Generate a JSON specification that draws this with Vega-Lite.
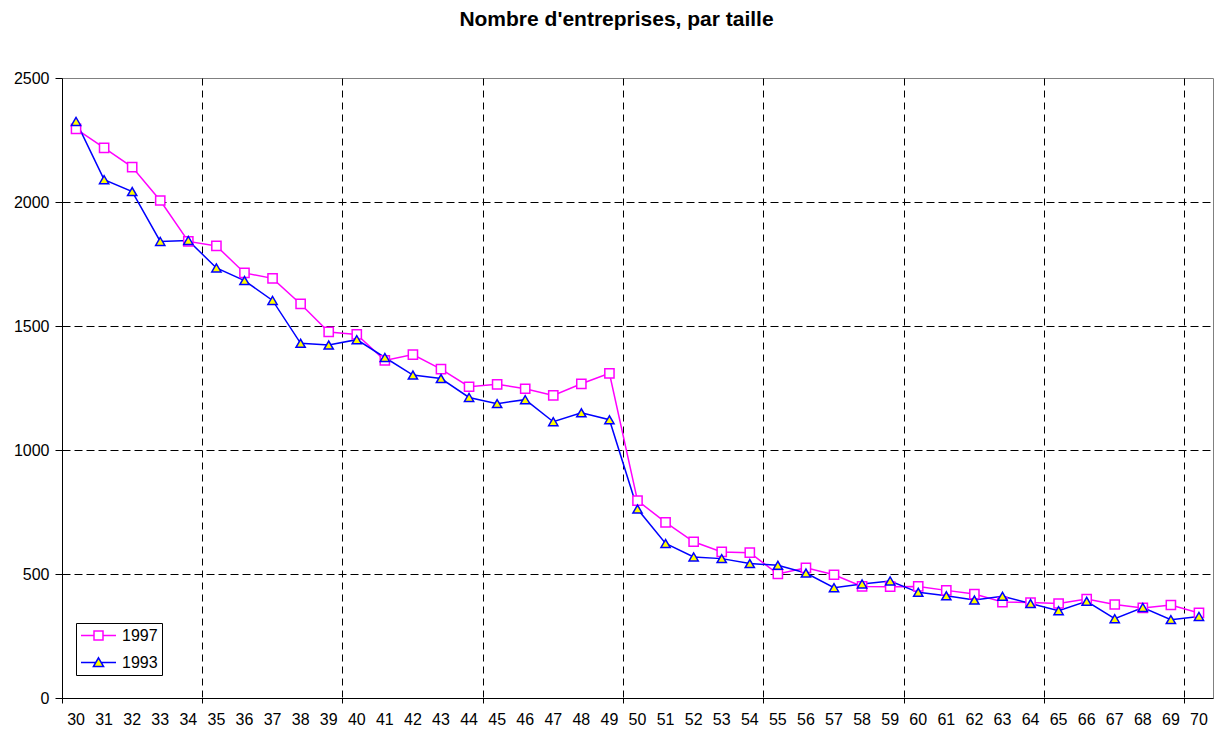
{
  "$schema": "https://vega.github.io/schema/vega-lite/v6.json",
  "autosize": {"type": "none"},
  "padding": {"left": 62, "top": 78, "right": 2, "bottom": 36},
  "width": 1151,
  "height": 620,
  "background": "white",
  "config": {
    "font": "Liberation Sans",
    "view": {"stroke": "#808080", "strokeWidth": 1}
  },
  "title": {
    "text": "Nombre d'entreprises, par taille",
    "fontSize": 21,
    "fontWeight": "bold",
    "font": "Liberation Sans",
    "color": "black",
    "anchor": "middle",
    "offset": 40,
    "dx": -21
  },
  "datasets": {
    "d": [
      {"taille": 30, "annee": "1997", "n": 2295},
      {"taille": 31, "annee": "1997", "n": 2218},
      {"taille": 32, "annee": "1997", "n": 2141},
      {"taille": 33, "annee": "1997", "n": 2006},
      {"taille": 34, "annee": "1997", "n": 1841},
      {"taille": 35, "annee": "1997", "n": 1823},
      {"taille": 36, "annee": "1997", "n": 1714},
      {"taille": 37, "annee": "1997", "n": 1692},
      {"taille": 38, "annee": "1997", "n": 1589},
      {"taille": 39, "annee": "1997", "n": 1476},
      {"taille": 40, "annee": "1997", "n": 1466},
      {"taille": 41, "annee": "1997", "n": 1361},
      {"taille": 42, "annee": "1997", "n": 1385},
      {"taille": 43, "annee": "1997", "n": 1326},
      {"taille": 44, "annee": "1997", "n": 1255},
      {"taille": 45, "annee": "1997", "n": 1265},
      {"taille": 46, "annee": "1997", "n": 1247},
      {"taille": 47, "annee": "1997", "n": 1220},
      {"taille": 48, "annee": "1997", "n": 1267},
      {"taille": 49, "annee": "1997", "n": 1309},
      {"taille": 50, "annee": "1997", "n": 796},
      {"taille": 51, "annee": "1997", "n": 708},
      {"taille": 52, "annee": "1997", "n": 630},
      {"taille": 53, "annee": "1997", "n": 589},
      {"taille": 54, "annee": "1997", "n": 586},
      {"taille": 55, "annee": "1997", "n": 500},
      {"taille": 56, "annee": "1997", "n": 525},
      {"taille": 57, "annee": "1997", "n": 497},
      {"taille": 58, "annee": "1997", "n": 450},
      {"taille": 59, "annee": "1997", "n": 449},
      {"taille": 60, "annee": "1997", "n": 450},
      {"taille": 61, "annee": "1997", "n": 434},
      {"taille": 62, "annee": "1997", "n": 419},
      {"taille": 63, "annee": "1997", "n": 387},
      {"taille": 64, "annee": "1997", "n": 385},
      {"taille": 65, "annee": "1997", "n": 381},
      {"taille": 66, "annee": "1997", "n": 399},
      {"taille": 67, "annee": "1997", "n": 377},
      {"taille": 68, "annee": "1997", "n": 363},
      {"taille": 69, "annee": "1997", "n": 375},
      {"taille": 70, "annee": "1997", "n": 343},
      {"taille": 30, "annee": "1993", "n": 2325},
      {"taille": 31, "annee": "1993", "n": 2090},
      {"taille": 32, "annee": "1993", "n": 2042},
      {"taille": 33, "annee": "1993", "n": 1841},
      {"taille": 34, "annee": "1993", "n": 1845},
      {"taille": 35, "annee": "1993", "n": 1734},
      {"taille": 36, "annee": "1993", "n": 1683},
      {"taille": 37, "annee": "1993", "n": 1603},
      {"taille": 38, "annee": "1993", "n": 1430},
      {"taille": 39, "annee": "1993", "n": 1423},
      {"taille": 40, "annee": "1993", "n": 1445},
      {"taille": 41, "annee": "1993", "n": 1373},
      {"taille": 42, "annee": "1993", "n": 1302},
      {"taille": 43, "annee": "1993", "n": 1288},
      {"taille": 44, "annee": "1993", "n": 1212},
      {"taille": 45, "annee": "1993", "n": 1187},
      {"taille": 46, "annee": "1993", "n": 1203},
      {"taille": 47, "annee": "1993", "n": 1114},
      {"taille": 48, "annee": "1993", "n": 1150},
      {"taille": 49, "annee": "1993", "n": 1122},
      {"taille": 50, "annee": "1993", "n": 762},
      {"taille": 51, "annee": "1993", "n": 623},
      {"taille": 52, "annee": "1993", "n": 569},
      {"taille": 53, "annee": "1993", "n": 562},
      {"taille": 54, "annee": "1993", "n": 542},
      {"taille": 55, "annee": "1993", "n": 535},
      {"taille": 56, "annee": "1993", "n": 504},
      {"taille": 57, "annee": "1993", "n": 445},
      {"taille": 58, "annee": "1993", "n": 460},
      {"taille": 59, "annee": "1993", "n": 472},
      {"taille": 60, "annee": "1993", "n": 426},
      {"taille": 61, "annee": "1993", "n": 412},
      {"taille": 62, "annee": "1993", "n": 395},
      {"taille": 63, "annee": "1993", "n": 410},
      {"taille": 64, "annee": "1993", "n": 381},
      {"taille": 65, "annee": "1993", "n": 352},
      {"taille": 66, "annee": "1993", "n": 390},
      {"taille": 67, "annee": "1993", "n": 320},
      {"taille": 68, "annee": "1993", "n": 365},
      {"taille": 69, "annee": "1993", "n": 316},
      {"taille": 70, "annee": "1993", "n": 329}
    ]
  },
  "data": {"name": "d"},
  "encoding": {
    "x": {
      "field": "taille",
      "type": "ordinal",
      "sort": "ascending",
      "scale": {"type": "band", "paddingInner": 0, "paddingOuter": 0},
      "axis": {
        "title": null,
        "bandPosition": 0,
        "labelAngle": 0,
        "labelFontSize": 16,
        "labelColor": "black",
        "labelPadding": 8,
        "labelFont": "Liberation Sans",
        "domainColor": "black",
        "domainWidth": 1,
        "tickColor": "black",
        "tickSize": 5,
        "tickWidth": 1,
        "tickOpacity": {"condition": {"test": "datum.value % 5 === 0", "value": 1}, "value": 0},
        "grid": true,
        "gridColor": "black",
        "gridDash": [7, 5],
        "gridWidth": 1,
        "gridOpacity": {"condition": {"test": "datum.value % 5 === 0 && datum.value > 30", "value": 1}, "value": 0}
      }
    },
    "y": {
      "field": "n",
      "type": "quantitative",
      "scale": {"domain": [0, 2500], "nice": false, "zero": true},
      "axis": {
        "title": null,
        "values": [0, 500, 1000, 1500, 2000, 2500],
        "format": "d",
        "labelFontSize": 16,
        "labelColor": "black",
        "labelPadding": 6,
        "labelFont": "Liberation Sans",
        "domainColor": "black",
        "domainWidth": 1,
        "tickColor": "black",
        "tickSize": 7,
        "tickWidth": 1,
        "grid": true,
        "gridColor": "black",
        "gridDash": [8, 4],
        "gridWidth": 1,
        "gridOpacity": {"condition": {"test": "datum.value > 0 && datum.value < 2500", "value": 1}, "value": 0}
      }
    }
  },
  "layer": [
    {
      "mark": {"type": "line", "strokeWidth": 1.5},
      "encoding": {
        "color": {
          "field": "annee",
          "type": "nominal",
          "scale": {"domain": ["1997", "1993"], "range": ["#FF00FF", "#0000FF"]},
          "legend": {
            "title": null,
            "orient": "none",
            "legendX": 14,
            "legendY": 545,
            "direction": "vertical",
            "strokeColor": "black",
            "fillColor": "white",
            "padding": 4,
            "rowPadding": 10,
            "symbolSize": 225,
            "symbolOffset": 10,
            "symbolStrokeWidth": 1.5,
            "labelFontSize": 16,
            "labelColor": "black",
            "labelFont": "Liberation Sans",
            "labelOffset": 15,
            "encode": {
              "symbols": {
                "update": {
                  "shape": {"signal": "datum.value === '1997' ? 'M-2.333,0H-0.6M0.6,0H2.333M-0.6,-0.6H0.6V0.6H-0.6Z' : 'M-2.333,0H-0.365M0.365,0H2.333M0,-0.63L0.677,0.537H-0.677Z'"},
                  "fill": {"signal": "datum.value === '1997' ? 'white' : '#FFFF00'"},
                  "stroke": {"signal": "datum.value === '1997' ? '#FF00FF' : '#0000FF'"},
                  "strokeWidth": {"value": 1.5},
                  "opacity": {"value": 1},
                  "fillOpacity": {"value": 1}
                }
              }
            }
          }
        }
      }
    },
    {
      "transform": [{"filter": "datum.annee === '1997'"}],
      "mark": {"type": "point", "shape": "square", "filled": true, "fill": "white", "stroke": "#FF00FF", "strokeWidth": 1.5, "opacity": 1, "size": 85}
    },
    {
      "transform": [{"filter": "datum.annee === '1993'"}],
      "mark": {"type": "point", "shape": "triangle-up", "filled": true, "fill": "#FFFF00", "stroke": "#0000FF", "strokeWidth": 1.5, "opacity": 1, "size": 85}
    }
  ]
}
